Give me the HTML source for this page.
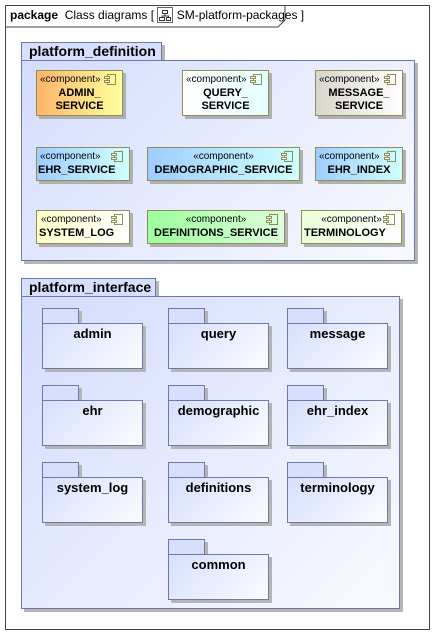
<!DOCTYPE html>
<html><head><meta charset="utf-8"><style>
*{margin:0;padding:0;box-sizing:border-box}
body{width:438px;height:634px;background:#fff;position:relative;overflow:hidden;font-family:"Liberation Sans",Arial,sans-serif;color:#000}
.a{position:absolute}
.frame{left:5px;top:5px;width:425px;height:625px;border:1px solid #444}
.hdr{left:5px;top:5px;font-size:12px;line-height:20px;padding-left:5px;white-space:nowrap}
.pt{border:1px solid #6d7aa8;background:#d6dffc;font-weight:bold;font-size:14px;line-height:17px;padding-left:7px;box-shadow:3px 3px 0 #b5b5b5}
.pb{border:1px solid #6d7aa8;background:linear-gradient(135deg,#d3dcfc 0%,#f9faff 100%);box-shadow:3px 3px 0 #b5b5b5}
.c{border:1px solid #8f8f55;box-shadow:3px 3px 0 #b0b0b0;font-size:11px;text-align:center}
.c .s{font-size:10px;line-height:13px;margin-top:2px}
.c .n{font-weight:bold;font-size:11px;line-height:13px;margin-top:1px}
.c svg{position:absolute;right:5px;top:2px}
.kt{border:1px solid #6d7aa8;background:#d6dffc;box-shadow:3px 3px 0 #b5b5b5;width:37px;height:16px}
.kb{border:1px solid #6d7aa8;background:linear-gradient(135deg,#d6dffc 0%,#fbfcff 100%);box-shadow:3px 3px 0 #b5b5b5;width:101px;height:46px;text-align:center;font-weight:bold;font-size:13px;padding-top:2px}
</style></head><body>
<div class="a frame"></div>
<svg class="a" style="left:5px;top:5px" width="285" height="24"><polyline points="0,22 273,22 280,15 280,0" fill="none" stroke="#444" stroke-width="1"/></svg>
<div class="a hdr"><b>package</b>&nbsp; Class diagrams [ <span style="display:inline-block;width:16px;height:16px;border:1px solid #666;vertical-align:-4px;position:relative;background:#fff"><svg width="14" height="14" style="position:absolute;left:0;top:0"><rect x="4.5" y="2.5" width="5" height="3" fill="none" stroke="#333"/><rect x="1.5" y="9.5" width="5" height="3" fill="none" stroke="#333"/><rect x="8.5" y="9.5" width="4" height="3" fill="none" stroke="#333"/><path d="M7 5.5V8M4 9.5V8H10.5V9.5" fill="none" stroke="#333"/></svg></span> SM-platform-packages ]</div>

<div class="a pt" style="left:21px;top:42px;width:141px;height:19px">platform_definition</div>
<div class="a pb" style="left:21px;top:60px;width:394px;height:201px"></div>

<div class="a pt" style="left:21px;top:278px;width:135px;height:19px">platform_interface</div>
<div class="a pb" style="left:21px;top:296px;width:379px;height:313px"></div>

<div class="a c" style="left:36px;top:70px;width:87px;height:46px;background:linear-gradient(90deg,#ffb46a,#ffff9e)"><div class="s" style="text-align:left;padding-left:3px">«component»</div><div class="n">ADMIN_<br>SERVICE</div><svg width="13" height="13"><rect x="3.5" y="1.5" width="8" height="10" fill="none" stroke="#8f8f55"/><rect x="0.5" y="3.5" width="5" height="2" fill="#fff" stroke="#8f8f55"/><rect x="0.5" y="7.5" width="5" height="2" fill="#fff" stroke="#8f8f55"/></svg></div>
<div class="a c" style="left:182px;top:70px;width:87px;height:46px;background:linear-gradient(90deg,#ffffff,#e4ffff)"><div class="s" style="text-align:left;padding-left:3px">«component»</div><div class="n">QUERY_<br>SERVICE</div><svg width="13" height="13"><rect x="3.5" y="1.5" width="8" height="10" fill="none" stroke="#8f8f55"/><rect x="0.5" y="3.5" width="5" height="2" fill="#fff" stroke="#8f8f55"/><rect x="0.5" y="7.5" width="5" height="2" fill="#fff" stroke="#8f8f55"/></svg></div>
<div class="a c" style="left:315px;top:70px;width:88px;height:46px;background:linear-gradient(90deg,#d9d5cc,#ffffff)"><div class="s" style="text-align:left;padding-left:3px">«component»</div><div class="n">MESSAGE_<br>SERVICE</div><svg width="13" height="13"><rect x="3.5" y="1.5" width="8" height="10" fill="none" stroke="#8f8f55"/><rect x="0.5" y="3.5" width="5" height="2" fill="#fff" stroke="#8f8f55"/><rect x="0.5" y="7.5" width="5" height="2" fill="#fff" stroke="#8f8f55"/></svg></div>

<div class="a c" style="left:36px;top:147px;width:94px;height:34px;background:linear-gradient(90deg,#9fccff,#d0ffff)"><div class="s" style="text-align:left;padding-left:3px">«component»</div><div class="n" style="text-align:left;padding-left:1px">EHR_SERVICE</div><svg width="13" height="13"><rect x="3.5" y="1.5" width="8" height="10" fill="none" stroke="#8f8f55"/><rect x="0.5" y="3.5" width="5" height="2" fill="#fff" stroke="#8f8f55"/><rect x="0.5" y="7.5" width="5" height="2" fill="#fff" stroke="#8f8f55"/></svg></div>
<div class="a c" style="left:147px;top:147px;width:153px;height:34px;background:linear-gradient(90deg,#9fccff,#d0ffff)"><div class="s">«component»</div><div class="n">DEMOGRAPHIC_SERVICE</div><svg width="13" height="13"><rect x="3.5" y="1.5" width="8" height="10" fill="none" stroke="#8f8f55"/><rect x="0.5" y="3.5" width="5" height="2" fill="#fff" stroke="#8f8f55"/><rect x="0.5" y="7.5" width="5" height="2" fill="#fff" stroke="#8f8f55"/></svg></div>
<div class="a c" style="left:315px;top:147px;width:88px;height:34px;background:linear-gradient(90deg,#9fccff,#d0ffff)"><div class="s" style="text-align:left;padding-left:3px">«component»</div><div class="n">EHR_INDEX</div><svg width="13" height="13"><rect x="3.5" y="1.5" width="8" height="10" fill="none" stroke="#8f8f55"/><rect x="0.5" y="3.5" width="5" height="2" fill="#fff" stroke="#8f8f55"/><rect x="0.5" y="7.5" width="5" height="2" fill="#fff" stroke="#8f8f55"/></svg></div>

<div class="a c" style="left:36px;top:210px;width:94px;height:34px;background:linear-gradient(90deg,#ffffcc,#ffffff)"><div class="s" style="text-align:left;padding-left:4px">«component»</div><div class="n" style="text-align:left;padding-left:2px">SYSTEM_LOG</div><svg width="13" height="13"><rect x="3.5" y="1.5" width="8" height="10" fill="none" stroke="#8f8f55"/><rect x="0.5" y="3.5" width="5" height="2" fill="#fff" stroke="#8f8f55"/><rect x="0.5" y="7.5" width="5" height="2" fill="#fff" stroke="#8f8f55"/></svg></div>
<div class="a c" style="left:147px;top:210px;width:138px;height:34px;background:linear-gradient(90deg,#9cff9c,#ddffdd)"><div class="s">«component»</div><div class="n">DEFINITIONS_SERVICE</div><svg width="13" height="13"><rect x="3.5" y="1.5" width="8" height="10" fill="none" stroke="#8f8f55"/><rect x="0.5" y="3.5" width="5" height="2" fill="#fff" stroke="#8f8f55"/><rect x="0.5" y="7.5" width="5" height="2" fill="#fff" stroke="#8f8f55"/></svg></div>
<div class="a c" style="left:301px;top:210px;width:101px;height:34px;background:linear-gradient(90deg,#eaffd8,#ffffff)"><div class="s">«component»</div><div class="n" style="text-align:left;padding-left:2px">TERMINOLOGY</div><svg width="13" height="13"><rect x="3.5" y="1.5" width="8" height="10" fill="none" stroke="#8f8f55"/><rect x="0.5" y="3.5" width="5" height="2" fill="#fff" stroke="#8f8f55"/><rect x="0.5" y="7.5" width="5" height="2" fill="#fff" stroke="#8f8f55"/></svg></div>

<div class="a kt" style="left:42px;top:308px"></div><div class="a kb" style="left:42px;top:323px">admin</div>
<div class="a kt" style="left:168px;top:308px"></div><div class="a kb" style="left:168px;top:323px">query</div>
<div class="a kt" style="left:287px;top:308px"></div><div class="a kb" style="left:287px;top:323px">message</div>

<div class="a kt" style="left:42px;top:385px"></div><div class="a kb" style="left:42px;top:400px">ehr</div>
<div class="a kt" style="left:168px;top:385px"></div><div class="a kb" style="left:168px;top:400px">demographic</div>
<div class="a kt" style="left:287px;top:385px"></div><div class="a kb" style="left:287px;top:400px">ehr_index</div>

<div class="a kt" style="left:42px;top:462px"></div><div class="a kb" style="left:42px;top:477px">system_log</div>
<div class="a kt" style="left:168px;top:462px"></div><div class="a kb" style="left:168px;top:477px">definitions</div>
<div class="a kt" style="left:287px;top:462px"></div><div class="a kb" style="left:287px;top:477px">terminology</div>

<div class="a kt" style="left:168px;top:539px"></div><div class="a kb" style="left:168px;top:554px">common</div>
</body></html>
